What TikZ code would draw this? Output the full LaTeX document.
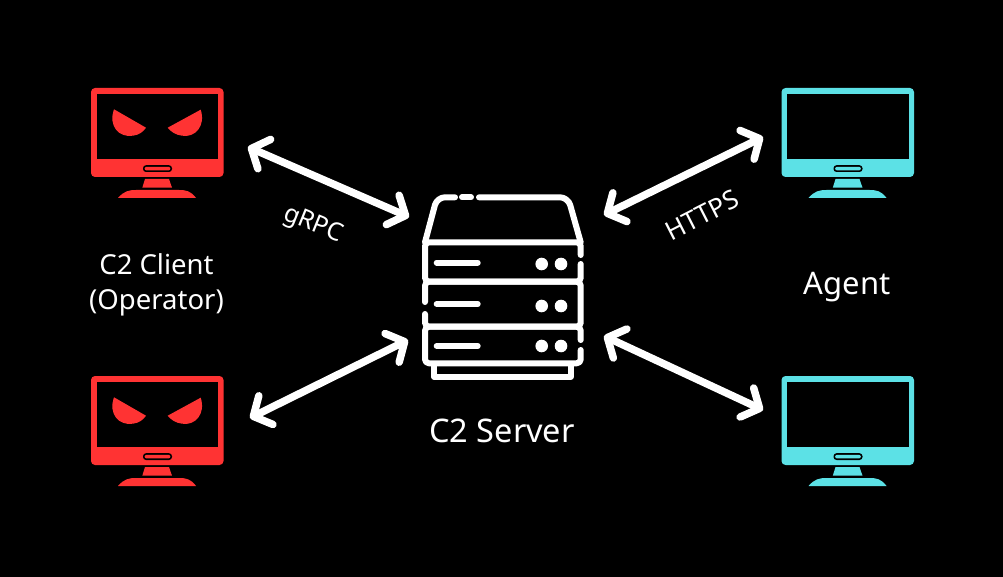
\documentclass[tikz,border=0pt]{standalone}
\usepackage{fontspec}
\setmainfont{Noto Sans}
\usetikzlibrary{arrows.meta}
\definecolor{clientred}{HTML}{FF3333}
\definecolor{agentcyan}{HTML}{5CE1E6}
\tikzset{
  caption/.style={text=white,font=\fontsize{#1}{#1}\selectfont,inner sep=0pt,align=center},
  link/.style={white,line width=7.5pt,line cap=round,<->},
  rack/.style={white,line width=6pt,line cap=round,line join=round},
  pics/monitor/.style={code={
    \fill[#1,rounded corners=4pt] (0,0) rectangle (132.5,89);
    \fill[black] (5.7,6) rectangle (127,70.7);
    \fill[black,rounded corners=3pt] (52,77.2) rectangle (81,84);
    \fill[#1,rounded corners=2pt] (53.6,78.8) rectangle (79.4,82.4);
    \fill[#1] (54,91) -- (78,91) -- (81,99.7) -- (51.3,99.7) -- cycle;
    \fill[#1] (27,110) .. controls (33,103) and (38,102) .. (45,102) -- (88,102) .. controls (95,102) and (100,103) .. (105,110) -- cycle;
  }},
  pics/eyes/.style={code={
    \fill[clientred] (23,21.3) .. controls (17,38) and (28,50) .. (42,47.7) .. controls (48,47) and (52,44) .. (55,39.7) -- cycle;
    \fill[clientred] (109.7,21.7) .. controls (115,38) and (104,50) .. (91,47.7) .. controls (85,47) and (80,44) .. (76.7,39.7) -- cycle;
  }},
}
\begin{document}
\begin{tikzpicture}[x=1pt,y=-1pt,>={Straight Barb[length=14pt,width=32pt,line cap=round,line join=round]}]
  \useasboundingbox[fill=black] (0,0) rectangle (1003,577);

  % monitors
  \pic at (91,88) {monitor=clientred};
  \pic at (91,88) {eyes};
  \pic at (91,376) {monitor=clientred};
  \pic at (91,376) {eyes};
  \pic at (781.5,88) {monitor=agentcyan};
  \pic at (781.5,376) {monitor=agentcyan};

  % server lid
  \draw[rack,rounded corners=8pt] (455,197.3) -- (437,197.3) -- (425,242.3);
  \draw[rack] (462,197.3) -- (471,197.3);
  \draw[rack,rounded corners=8pt] (479,197.3) -- (568,197.3) -- (580.7,242.3);
  % server boxes
  \draw[rack,rounded corners=4pt] (580.7,255) -- (580.7,242.3) -- (425,242.3) -- (425,281.7) -- (580.7,281.7) -- (580.7,264);
  \draw[rack,rounded corners=4pt] (425,302) -- (425,281.7) -- (580.7,281.7) -- (580.7,326.7) -- (425,326.7) -- (425,314);
  \draw[rack,rounded corners=4pt] (580.7,340) -- (580.7,326.7) -- (425,326.7) -- (425,363.3) -- (580.7,363.3) -- (580.7,350);
  \draw[rack] (434,364) -- (434,376.7) -- (570.7,376.7) -- (570.7,364);
  % lights
  \foreach \y/\z in {262.5/264,304/306,346/346}{
    \draw[rack] (436.7,\y) -- (477.7,\y);
    \fill[white] (541.7,\z) circle (6.3);
    \fill[white] (561,\z) circle (6.3);
  }

  % link ends
  \coordinate (clienttop) at (248,147);
  \coordinate (clientbottom) at (250,418);
  \coordinate (agenttop) at (763,137);
  \coordinate (agentbottom) at (763,410);
  \coordinate (serverwest) at (409,217);
  \coordinate (serverwestlow) at (408,340);
  \coordinate (servereast) at (604,215);
  \coordinate (servereastlow) at (604,336);

  \draw[link] (clienttop) -- (serverwest);
  \draw[link] (clientbottom) -- (serverwestlow);
  \draw[link] (agenttop) -- (servereast);
  \draw[link] (agentbottom) -- (servereastlow);

  \node[caption=25,rotate=-22] (grpc) at (313,225) {gRPC};
  \node[caption=26,rotate=27] (https) at (702,215) {HTTPS};
  \node[caption=27.5] (client) at (156.5,285) {C2 Client\\[8pt](Operator)};
  \node[caption=31] (agent) at (847,287) {Agent};
  \node[caption=32.5] (server) at (502,431) {C2 Server};
\end{tikzpicture}
\end{document}
